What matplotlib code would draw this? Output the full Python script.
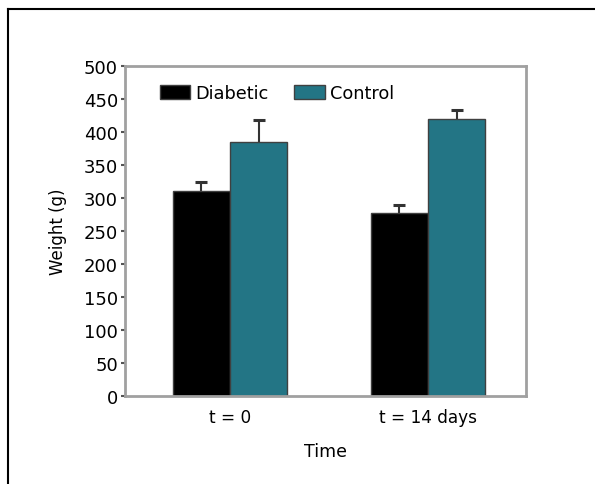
import matplotlib
matplotlib.use('Agg')
import matplotlib.pyplot as plt
from matplotlib.lines import Line2D
import numpy as np

plt.rcParams['font.family'] = ['DejaVu Sans']

# data
time_labels = ['t = 0', 't = 14 days']
diabetic = [310, 278]
diabetic_err = [15, 11]
control = [385, 420]
control_err = [33, 13]

teal = '#237585'
x = np.arange(len(time_labels))
w = 0.29

fig = plt.figure(figsize=(5.95, 4.85), dpi=100)
ax = fig.add_axes([125/595, 1-397/485, 401/595, 330/485])

for xs, vals, errs, col, lab in [(x - w/2, diabetic, diabetic_err, 'black', 'Diabetic'),
                                 (x + w/2, control, control_err, teal, 'Control')]:
    vals = np.array(vals); errs = np.array(errs)
    ax.bar(xs, vals, w, color=col, edgecolor='#404040', linewidth=1, label=lab, zorder=2)
    # upper error bars only, cap on top
    ax.vlines(xs, vals, vals + errs, color='#333333', lw=1.5, zorder=1)
    ax.plot(xs, vals + errs, ls='none', marker='_', ms=8.6, mew=2.2, color='#333333', zorder=1)

ax.set_xlim(-0.53, 1.495)
ax.set_ylim(0, 500)
ax.set_yticks(range(0, 501, 50))
ax.set_xticks(x)
ax.set_xticklabels(time_labels, fontsize=12.2)
ax.tick_params(axis='x', length=0, pad=9)
ax.tick_params(axis='y', direction='out', length=3, width=1.5, color='#555555', labelsize=13, pad=2)

for s in ax.spines.values():
    s.set_color('#a0a0a0')
    s.set_linewidth(2)
    s.set_zorder(3)

ax.set_ylabel('Weight (g)', fontsize=12, labelpad=12)
ax.set_xlabel('Time', fontsize=12.5, labelpad=11)

ax.legend(loc='center left', bbox_to_anchor=(0.087, (397-94)/330), ncol=2, frameon=False,
          fontsize=12.8, handlelength=1.72, handleheight=0.85, handletextpad=0.28,
          columnspacing=1.45, borderpad=0, borderaxespad=0)

# outer frame (top and left only)
fig.add_artist(Line2D([8/595, 1], [1-10/485, 1-10/485], color='black', lw=1.5))
fig.add_artist(Line2D([8/595, 8/595], [0, 1-10/485], color='black', lw=1.5))

fig.savefig('out.png', dpi=100)
